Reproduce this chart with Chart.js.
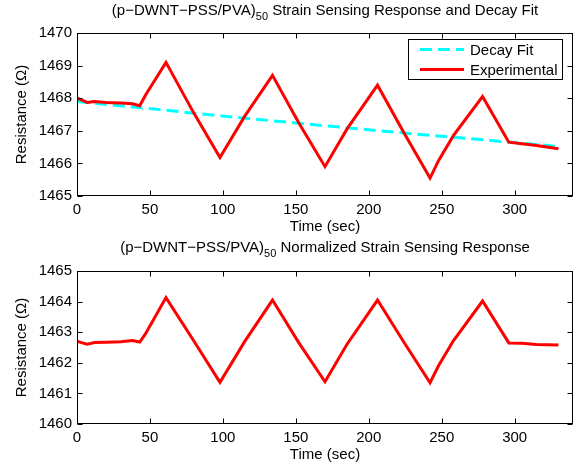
<!DOCTYPE html>
<html>
<head>
<meta charset="utf-8">
<script src="https://cdn.jsdelivr.net/npm/chart.js@4.4.0/dist/chart.umd.min.js"></script>
<style>
html, body { margin: 0; padding: 0; background: #fff; }
#wrap { position: relative; width: 576px; height: 469px; }
#topChart { position: absolute; left: 0; top: 0; }
#botChart { position: absolute; left: 0; top: 240px; }
</style>
</head>
<body>
<div id="wrap">
  <canvas id="topChart" width="576" height="240"></canvas>
  <canvas id="botChart" width="576" height="229"></canvas>
</div>
<script>
// time samples (sec) shared by both responses
var timeSec = [0, 3, 7, 12, 20, 30, 38, 43, 47, 61, 80, 98, 115, 134, 152, 170, 185, 206, 224, 242, 248, 258, 278, 296, 305, 315, 330];

// raw resistance (ohm)
var experimental = [1468.0, 1467.95, 1467.87, 1467.9, 1467.87, 1467.85, 1467.83, 1467.77, 1468.1, 1469.1,
    1467.55, 1466.18, 1467.45, 1468.7, 1467.25, 1465.9, 1467.05, 1468.4, 1466.95, 1465.55,
    1466.1, 1466.85, 1468.05, 1466.65, 1466.6, 1466.55, 1466.45];

// normalized resistance (ohm)
var normalized = [1462.71, 1462.66, 1462.61, 1462.66, 1462.67, 1462.69, 1462.73, 1462.68, 1462.95, 1464.13,
    1462.72, 1461.36, 1462.7, 1464.05, 1462.66, 1461.38, 1462.6, 1464.05, 1462.68, 1461.35,
    1461.92, 1462.72, 1464.02, 1462.65, 1462.64, 1462.6, 1462.58];

// decay fit
var fitTime = [0, 50, 100, 150, 200, 250, 300, 330];
var decayFit = [1467.9, 1467.68, 1467.45, 1467.24, 1467.03, 1466.83, 1466.64, 1466.52];

var xTicks = [0, 50, 100, 150, 200, 250, 300];
var topYTicks = [1465, 1466, 1467, 1468, 1469, 1470];
var botYTicks = [1460, 1461, 1462, 1463, 1464, 1465];

var FONT = "'Liberation Sans', Arial, Helvetica, sans-serif";
var FS = 15;

function toPoints(xs, ys) {
    return xs.map(function (x, i) { return { x: x, y: ys[i] }; });
}

// axes box with inward ticks on all four sides (matlab style)
var boxPlugin = {
    id: 'boxTicks',
    afterDatasetsDraw: function (chart) {
        var ctx = chart.ctx, a = chart.chartArea;
        var xs = chart.scales.x, ys = chart.scales.y;
        var L = Math.round(a.left) + 0.5, R = Math.round(a.right) - 0.5;
        var T = Math.round(a.top) + 0.5, B = Math.round(a.bottom) - 0.5;
        ctx.save();
        ctx.strokeStyle = '#000';
        ctx.lineWidth = 1;
        ctx.beginPath();
        xs.ticks.forEach(function (t) {
            var px = Math.round(xs.getPixelForValue(t.value)) + 0.5;
            ctx.moveTo(px, B); ctx.lineTo(px, B - 5);
            ctx.moveTo(px, T); ctx.lineTo(px, T + 5);
        });
        ys.ticks.forEach(function (t) {
            var py = Math.round(ys.getPixelForValue(t.value)) + 0.5;
            ctx.moveTo(L, py); ctx.lineTo(L + 5, py);
            ctx.moveTo(R, py); ctx.lineTo(R - 5, py);
        });
        ctx.stroke();
        ctx.strokeRect(L, T, R - L, B - T);
        ctx.restore();
    }
};

// title with subscript
var subTitlePlugin = {
    id: 'subTitle',
    afterDraw: function (chart, args, opts) {
        if (!opts || !opts.main) return;
        var ctx = chart.ctx, a = chart.chartArea;
        ctx.save();
        ctx.fillStyle = '#000';
        ctx.textBaseline = 'alphabetic';
        ctx.font = FS + 'px ' + FONT;
        var w1 = ctx.measureText(opts.main).width;
        var w3 = ctx.measureText(opts.rest).width;
        ctx.font = '11px ' + FONT;
        var w2 = ctx.measureText(opts.sub).width;
        var x = (a.left + a.right) / 2 - (w1 + w2 + w3) / 2;
        ctx.font = FS + 'px ' + FONT;
        ctx.fillText(opts.main, x, opts.y);
        ctx.font = '11px ' + FONT;
        ctx.fillText(opts.sub, x + w1, opts.y + 5);
        ctx.font = FS + 'px ' + FONT;
        ctx.fillText(opts.rest, x + w1 + w2, opts.y);
        ctx.restore();
    }
};

// legend box inside axes
var boxLegendPlugin = {
    id: 'boxLegend',
    afterDraw: function (chart, args, opts) {
        if (!opts || !opts.show) return;
        var ctx = chart.ctx;
        var left = 408.5, top = 39.5, w = 154, h = 40;
        ctx.save();
        ctx.fillStyle = '#fff';
        ctx.fillRect(left, top, w, h);
        ctx.strokeStyle = '#000';
        ctx.lineWidth = 1;
        ctx.strokeRect(left, top, w, h);
        ctx.font = FS + 'px ' + FONT;
        ctx.textBaseline = 'middle';
        opts.items.forEach(function (idx, row) {
            var ds = chart.data.datasets[idx];
            var cy = 49.5 + row * 20;
            ctx.beginPath();
            ctx.strokeStyle = ds.borderColor;
            ctx.lineWidth = ds.borderWidth;
            ctx.setLineDash(ds.borderDash || []);
            ctx.moveTo(420, cy);
            ctx.lineTo(464, cy);
            ctx.stroke();
            ctx.setLineDash([]);
            ctx.fillStyle = '#000';
            ctx.fillText(ds.label, 470, cy + 1);
        });
        ctx.restore();
    }
};

function makeScales(yMin, yMax, yTicks, xHeight, xTitlePad) {
    return {
        x: {
            type: 'linear', min: 0, max: 340,
            afterBuildTicks: function (s) { s.ticks = xTicks.map(function (v) { return { value: v }; }); },
            afterFit: function (s) { s.height = xHeight; },
            grid: { display: false, drawTicks: false, tickLength: 0 },
            border: { display: false },
            ticks: { color: '#000', font: { family: FONT, size: FS }, padding: 5, maxRotation: 0, autoSkip: false,
                callback: function (v) { return String(v); } },
            title: { display: true, text: 'Time (sec)', color: '#000', font: { family: FONT, size: FS }, padding: { top: 0, bottom: xTitlePad } }
        },
        y: {
            type: 'linear', min: yMin, max: yMax,
            afterBuildTicks: function (s) { s.ticks = yTicks.map(function (v) { return { value: v }; }); },
            afterFit: function (s) { s.width = 77; },
            grid: { display: false, drawTicks: false, tickLength: 0 },
            border: { display: false },
            ticks: { color: '#000', font: { family: FONT, size: FS }, padding: 5,
                callback: function (v) { return String(v); } },
            title: { display: true, text: 'Resistance (Ω)', color: '#000', font: { family: FONT, size: FS }, padding: { top: 13, bottom: 0 } }
        }
    };
}

var titleMain = '(p\u2212DWNT\u2212PSS/PVA)';

// Top chart: raw response + decay fit
new Chart(document.getElementById('topChart'), {
    type: 'line',
    data: {
        datasets: [{
            label: 'Experimental',
            data: toPoints(timeSec, experimental),
            borderColor: '#ff0000',
            borderWidth: 3,
            pointRadius: 0,
            tension: 0
        }, {
            label: 'Decay Fit',
            data: toPoints(fitTime, decayFit),
            borderColor: '#00ffff',
            borderWidth: 3,
            borderDash: [12, 6],
            pointRadius: 0,
            tension: 0
        }]
    },
    options: {
        responsive: false,
        animation: false,
        layout: { padding: { top: 33, right: 3, bottom: 0, left: 0 } },
        scales: makeScales(1465, 1470, topYTicks, 44, 4),
        plugins: {
            legend: { display: false },
            tooltip: { enabled: false },
            subTitle: { main: titleMain, sub: '50', rest: ' Strain Sensing Response and Decay Fit', y: 15 },
            boxLegend: { show: true, items: [1, 0] }
        }
    },
    plugins: [boxPlugin, subTitlePlugin, boxLegendPlugin]
});

// Bottom chart: normalized response
new Chart(document.getElementById('botChart'), {
    type: 'line',
    data: {
        datasets: [{
            label: 'Normalized',
            data: toPoints(timeSec, normalized),
            borderColor: '#ff0000',
            borderWidth: 3,
            pointRadius: 0,
            tension: 0
        }]
    },
    options: {
        responsive: false,
        animation: false,
        layout: { padding: { top: 31, right: 3, bottom: 0, left: 0 } },
        scales: makeScales(1460, 1465, botYTicks, 45, 5),
        plugins: {
            legend: { display: false },
            tooltip: { enabled: false },
            subTitle: { main: titleMain, sub: '50', rest: ' Normalized Strain Sensing Response', y: 11.7 },
            boxLegend: { show: false }
        }
    },
    plugins: [boxPlugin, subTitlePlugin, boxLegendPlugin]
});
</script>
</body>
</html>
